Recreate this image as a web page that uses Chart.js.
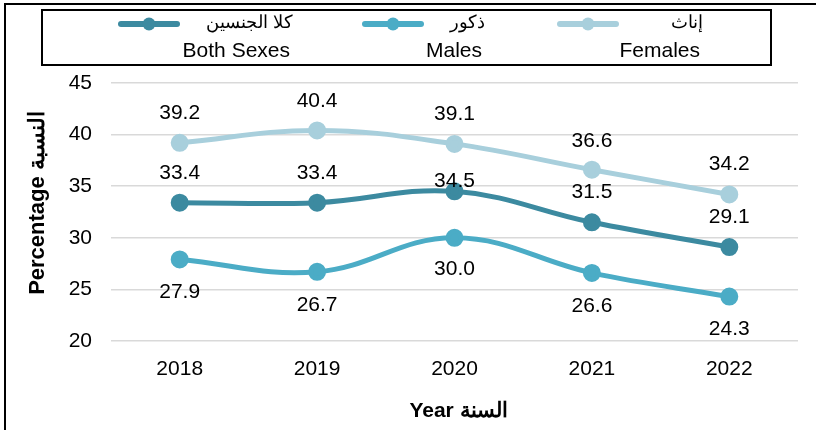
<!DOCTYPE html>
<html>
<head>
<meta charset="utf-8">
<script src="https://cdn.jsdelivr.net/npm/chart.js@4.4.1/dist/chart.umd.min.js"></script>
<style>
  html, body { margin: 0; padding: 0; background: #ffffff; }
  #wrap { width: 816px; height: 430px; position: relative; }
</style>
</head>
<body>
<div id="wrap"><canvas id="c" width="816" height="430"></canvas></div>
<script>
// ---- data ----
const years = ['2018', '2019', '2020', '2021', '2022'];
const bothSexes = [33.4, 33.4, 34.5, 31.5, 29.1];
const males = [27.9, 26.7, 30.0, 26.6, 24.3];
const females = [39.2, 40.4, 39.1, 36.6, 34.2];
const seriesNamesEn = ['Both Sexes', 'Males', 'Females'];
const seriesNamesAr = ['كلا الجنسين', 'ذكور', 'إناث'];
const yAxisMin = 20;
const yAxisMax = 45;
const yAxisStep = 5;
const yAxisTitle = 'Percentage النسبة';
const xAxisTitle = 'Year السنة';

// ---- styles ----
const FONT = "'Liberation Sans', Arial, sans-serif";
const FS = 21;
const colors = ['#3c8aa0', '#4bacc6', '#a8cfdc'];
const labelOffsets = [[-30, -30, -10, -30, -30], [33, 33, 31, 33, 33], [-30, -29, -30, -28, -30]];

Chart.defaults.font.family = FONT;
Chart.defaults.font.size = FS;
Chart.defaults.color = '#000000';

const seriesValues = [bothSexes, males, females];

const dataLabelsPlugin = {
  id: 'dataLabels',
  afterDatasetsDraw(chart) {
    const ctx = chart.ctx;
    ctx.save();
    ctx.font = FS + 'px ' + FONT;
    ctx.fillStyle = '#000000';
    ctx.textAlign = 'center';
    ctx.textBaseline = 'middle';
    chart.data.datasets.forEach((ds, di) => {
      const meta = chart.getDatasetMeta(di);
      meta.data.forEach((pt, i) => {
        ctx.fillText(ds.data[i].toFixed(1), pt.x, pt.y + labelOffsets[di][i]);
      });
    });
    ctx.restore();
  }
};

const decorPlugin = {
  id: 'decor',
  afterDraw(chart) {
    const ctx = chart.ctx;
    const area = chart.chartArea;
    ctx.save();
    // outer frame lines
    ctx.strokeStyle = '#000000';
    ctx.lineWidth = 2;
    ctx.beginPath();
    ctx.moveTo(5, 430);
    ctx.lineTo(5, 4);
    ctx.lineTo(816, 4);
    ctx.stroke();

    // legend box
    ctx.lineWidth = 2;
    ctx.strokeRect(42, 10, 729, 55);

    const markerX = [121, 365, 560];
    const textRight = [290, 482, 700];
    chart.data.datasets.forEach((ds, di) => {
      const mx = markerX[di];
      const my = 24;
      ctx.strokeStyle = ds.borderColor;
      ctx.lineWidth = 6;
      ctx.lineCap = 'round';
      ctx.beginPath();
      ctx.moveTo(mx, my);
      ctx.lineTo(mx + 56, my);
      ctx.stroke();
      ctx.fillStyle = ds.borderColor;
      ctx.beginPath();
      ctx.arc(mx + 28, my, 6.5, 0, Math.PI * 2);
      ctx.fill();

      ctx.fillStyle = '#000000';
      ctx.textAlign = 'right';
      ctx.textBaseline = 'middle';
      ctx.font = '18px ' + FONT;
      ctx.fillText(seriesNamesAr[di], textRight[di] + 3, 23);
      ctx.font = FS + 'px ' + FONT;
      ctx.fillText(seriesNamesEn[di], textRight[di], 51);
    });

    // axis titles
    ctx.fillStyle = '#000000';
    ctx.textAlign = 'center';
    ctx.textBaseline = 'middle';
    ctx.font = 'bold ' + FS + 'px ' + FONT;
    ctx.fillText(xAxisTitle, (area.left + area.right) / 2 + 4, 411);
    ctx.save();
    ctx.translate(38, 203);
    ctx.rotate(-Math.PI / 2);
    ctx.font = 'bold 22px ' + FONT;
    ctx.fillText(yAxisTitle, 0, 0);
    ctx.restore();
    ctx.restore();
  }
};

const datasets = seriesValues.map((vals, i) => ({
  label: seriesNamesEn[i],
  data: vals,
  borderColor: colors[i],
  backgroundColor: colors[i],
  pointBackgroundColor: colors[i],
  pointBorderColor: colors[i],
  borderWidth: 5,
  pointRadius: 6.5,
  pointHoverRadius: 6.5,
  tension: 0.4,
  fill: false
}));

new Chart(document.getElementById('c'), {
  type: 'line',
  data: { labels: years, datasets: datasets },
  plugins: [dataLabelsPlugin, decorPlugin],
  options: {
    responsive: false,
    devicePixelRatio: 1,
    animation: false,
    layout: { padding: { top: 83, right: 18, bottom: 0, left: 0 } },
    plugins: { legend: { display: false }, tooltip: { enabled: false }, title: { display: false } },
    scales: {
      x: {
        offset: true,
        grid: { display: false, drawTicks: false },
        border: { display: false },
        ticks: { padding: 16, font: { size: FS }, color: '#000000' },
        afterFit(scale) { scale.height = 89; }
      },
      y: {
        min: yAxisMin,
        max: yAxisMax,
        grid: { color: '#d9d9d9', lineWidth: 1.5, drawTicks: false },
        border: { display: false },
        ticks: { stepSize: yAxisStep, padding: 19, font: { size: FS }, color: '#000000' },
        afterFit(scale) { scale.width = 111; }
      }
    }
  }
});
</script>
</body>
</html>
